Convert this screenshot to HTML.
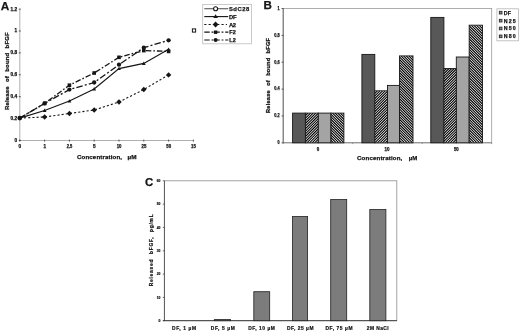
<!DOCTYPE html>
<html><head><meta charset="utf-8"><title>Figure</title>
<style>
html,body{margin:0;padding:0;background:#fff;}
body{width:520px;height:334px;overflow:hidden;font-family:"Liberation Sans",sans-serif;}
svg{display:block;}
text{font-family:"Liberation Sans",sans-serif;font-weight:bold;fill:#141414;stroke:#141414;stroke-width:0.25px;}
text.c{stroke-width:0.2px;}
</style></head><body>
<svg width="520" height="334" viewBox="0 0 520 334">
<defs>
<filter id="bl2" x="-2%" y="-2%" width="104%" height="104%"><feGaussianBlur stdDeviation="0.3"/></filter>
<filter id="bl" x="-2%" y="-2%" width="104%" height="104%"><feGaussianBlur stdDeviation="0.4"/></filter>
</defs>
<rect width="520" height="334" fill="#fff"/>
<g filter="url(#bl)">

<g id="A">
<text x="0.7" y="10.2" font-size="11.8">A</text>
<path d="M19.8 9V140.5H193.6" fill="none" stroke="#b0b0b0" stroke-width="1"/>
<path d="M18.8 140.5H20.8" stroke="#333" stroke-width="0.8"/>
<text x="14.50" y="141.90" font-size="4.7" textLength="2.60" lengthAdjust="spacingAndGlyphs" >0</text>
<path d="M18.8 118.6H20.8" stroke="#333" stroke-width="0.8"/>
<text x="10.50" y="120.00" font-size="4.7" textLength="6.60" lengthAdjust="spacingAndGlyphs" >0.2</text>
<path d="M18.8 96.7H20.8" stroke="#333" stroke-width="0.8"/>
<text x="10.50" y="98.10" font-size="4.7" textLength="6.60" lengthAdjust="spacingAndGlyphs" >0.4</text>
<path d="M18.8 74.8H20.8" stroke="#333" stroke-width="0.8"/>
<text x="10.50" y="76.20" font-size="4.7" textLength="6.60" lengthAdjust="spacingAndGlyphs" >0.6</text>
<path d="M18.8 52.9H20.8" stroke="#333" stroke-width="0.8"/>
<text x="10.50" y="54.30" font-size="4.7" textLength="6.60" lengthAdjust="spacingAndGlyphs" >0.8</text>
<path d="M18.8 31.0H20.8" stroke="#333" stroke-width="0.8"/>
<text x="14.50" y="32.40" font-size="4.7" textLength="2.60" lengthAdjust="spacingAndGlyphs" >1</text>
<path d="M18.8 9.1H20.8" stroke="#333" stroke-width="0.8"/>
<text x="10.50" y="10.50" font-size="4.7" textLength="6.60" lengthAdjust="spacingAndGlyphs" >1.2</text>
<path d="M19.8 139.6V141.6" stroke="#333" stroke-width="0.8"/>
<text x="18.60" y="148.20" font-size="4.7" textLength="2.60" lengthAdjust="spacingAndGlyphs" >0</text>
<path d="M44.6 139.6V141.6" stroke="#333" stroke-width="0.8"/>
<text x="43.40" y="148.20" font-size="4.7" textLength="2.60" lengthAdjust="spacingAndGlyphs" >1</text>
<path d="M69.4 139.6V141.6" stroke="#333" stroke-width="0.8"/>
<text x="66.70" y="148.20" font-size="4.7" textLength="5.60" lengthAdjust="spacingAndGlyphs" >2.5</text>
<path d="M94.2 139.6V141.6" stroke="#333" stroke-width="0.8"/>
<text x="93.00" y="148.20" font-size="4.7" textLength="2.60" lengthAdjust="spacingAndGlyphs" >5</text>
<path d="M119.0 139.6V141.6" stroke="#333" stroke-width="0.8"/>
<text x="116.70" y="148.20" font-size="4.7" textLength="4.80" lengthAdjust="spacingAndGlyphs" >10</text>
<path d="M143.8 139.6V141.6" stroke="#333" stroke-width="0.8"/>
<text x="141.50" y="148.20" font-size="4.7" textLength="4.80" lengthAdjust="spacingAndGlyphs" >25</text>
<path d="M168.6 139.6V141.6" stroke="#333" stroke-width="0.8"/>
<text x="166.30" y="148.20" font-size="4.7" textLength="4.80" lengthAdjust="spacingAndGlyphs" >50</text>
<path d="M193.4 139.6V141.6" stroke="#333" stroke-width="0.8"/>
<text x="191.10" y="148.20" font-size="4.7" textLength="4.80" lengthAdjust="spacingAndGlyphs" >15</text>
<text x="77.00" y="158.70" font-size="6.1" textLength="45.00" lengthAdjust="spacing" >Concentration,</text>
<text x="127.50" y="158.70" font-size="6.1" textLength="9.00" lengthAdjust="spacingAndGlyphs" >µM</text>
<text transform="translate(7.3,71.1) rotate(-90)" x="-38.80" y="2.16" font-size="6.0" textLength="77.60" lengthAdjust="spacing" style="word-spacing:2.5px">Release of bound bFGF</text>
<polyline points="19.8,118.1 44.6,117.0 69.4,113.5 94.2,110.0 119.0,102.0 143.8,89.5 168.60000000000002,74.9" fill="none" stroke="#141414" stroke-width="1.1" stroke-dasharray="2.1 2.1"/>
<polyline points="19.8,118.1 44.6,110.5 69.4,101.1 94.2,89.0 119.0,68.6 143.8,63.4 168.60000000000002,49.3" fill="none" stroke="#141414" stroke-width="1.1"/>
<polyline points="19.8,118.1 44.6,103.4 69.4,85.2 94.2,73.0 119.0,57.3 143.8,50.6 168.60000000000002,51.4" fill="none" stroke="#141414" stroke-width="1.3" stroke-dasharray="5.5 2 1.6 2"/>
<polyline points="19.8,118.1 44.6,103.4 69.4,89.6 94.2,82.5 119.0,64.7 143.8,47.7 168.60000000000002,40.3" fill="none" stroke="#141414" stroke-width="1.3" stroke-dasharray="6.5 2.2 2 2.2"/>
<path d="M41.90 117.0L44.60 114.30L47.30 117.0L44.60 119.70Z" fill="#141414"/>
<path d="M66.70 113.5L69.40 110.80L72.10 113.5L69.40 116.20Z" fill="#141414"/>
<path d="M91.50 110.0L94.20 107.30L96.90 110.0L94.20 112.70Z" fill="#141414"/>
<path d="M116.30 102.0L119.00 99.30L121.70 102.0L119.00 104.70Z" fill="#141414"/>
<path d="M141.10 89.5L143.80 86.80L146.50 89.5L143.80 92.20Z" fill="#141414"/>
<path d="M165.90 74.9L168.60 72.20L171.30 74.9L168.60 77.60Z" fill="#141414"/>
<path d="M42.70 112.00L44.60 108.60L46.50 112.00Z" fill="#141414"/>
<path d="M67.50 102.60L69.40 99.20L71.30 102.60Z" fill="#141414"/>
<path d="M92.30 90.50L94.20 87.10L96.10 90.50Z" fill="#141414"/>
<path d="M117.10 70.10L119.00 66.70L120.90 70.10Z" fill="#141414"/>
<path d="M141.90 64.90L143.80 61.50L145.70 64.90Z" fill="#141414"/>
<path d="M166.70 50.80L168.60 47.40L170.50 50.80Z" fill="#141414"/>
<rect x="42.80" y="101.60" width="3.6" height="3.6" fill="#141414"/>
<rect x="67.60" y="83.40" width="3.6" height="3.6" fill="#141414"/>
<rect x="92.40" y="71.20" width="3.6" height="3.6" fill="#141414"/>
<rect x="117.20" y="55.50" width="3.6" height="3.6" fill="#141414"/>
<rect x="142.00" y="48.80" width="3.6" height="3.6" fill="#141414"/>
<rect x="166.80" y="49.60" width="3.6" height="3.6" fill="#141414"/>
<circle cx="44.60" cy="103.4" r="2.15" fill="#141414"/>
<circle cx="69.40" cy="89.6" r="2.15" fill="#141414"/>
<circle cx="94.20" cy="82.5" r="2.15" fill="#141414"/>
<circle cx="119.00" cy="64.7" r="2.15" fill="#141414"/>
<circle cx="143.80" cy="47.7" r="2.15" fill="#141414"/>
<circle cx="168.60" cy="40.3" r="2.15" fill="#141414"/>
<circle cx="19.80" cy="118.1" r="2.4" fill="#141414"/>
<rect x="192.4" y="28.9" width="3.2" height="3.2" fill="#fff" stroke="#141414" stroke-width="1"/>
<rect x="202.7" y="4.5" width="48.8" height="39.3" fill="#fff" stroke="#bdbdbd" stroke-width="0.8"/>
<text x="228.90" y="10.80" font-size="5.8" textLength="20.40" lengthAdjust="spacing" >SdC28</text>
<text x="228.90" y="18.70" font-size="5.8" textLength="7.70" lengthAdjust="spacing" >DF</text>
<text x="228.90" y="26.60" font-size="5.8" textLength="7.20" lengthAdjust="spacing" >A2</text>
<text x="229.30" y="34.30" font-size="5.8" textLength="6.40" lengthAdjust="spacingAndGlyphs" >F2</text>
<text x="229.30" y="42.10" font-size="5.8" textLength="6.40" lengthAdjust="spacingAndGlyphs" >L2</text>
<path d="M204.3 8.7H228.2" stroke="#666" stroke-width="1.2"/><circle cx="215.6" cy="8.7" r="2" fill="#fff" stroke="#141414" stroke-width="1.1"/>
<path d="M204.3 16.6H228.2" stroke="#141414" stroke-width="1.1"/><path d="M213.3 18.1L215.6 14.3L217.9 18.1Z" fill="#141414"/>
<path d="M204.3 24.5H227" stroke="#141414" stroke-width="1.1" stroke-dasharray="2.15 2.15"/><path d="M212.7 24.5L215.6 21.6L218.5 24.5L215.6 27.4Z" fill="#141414"/>
<path d="M204.3 32.2H228.4" stroke="#141414" stroke-width="1.2" stroke-dasharray="5.4 1.8 2 1.8 4.5 1.8 1.8 1.8"/><rect x="213.9" y="30.500000000000004" width="3.4" height="3.4" fill="#141414"/>
<path d="M204.3 40.0H228.4" stroke="#141414" stroke-width="1.2" stroke-dasharray="5.4 1.8 2 1.8 4.5 1.8 1.8 1.8"/><circle cx="215.6" cy="40.0" r="2" fill="#141414"/>
</g>
<g id="B">
<text x="263.6" y="9.1" font-size="11.6">B</text>
<rect x="283.2" y="8.5" width="208.5" height="134.3" fill="#fff" stroke="#999" stroke-width="0.8"/>
<path d="M283.2 8.5V142.8" stroke="#666" stroke-width="0.9"/>
<path d="M282.7 142.8H491.7" stroke="#8a8a8a" stroke-width="1.1"/>
<path d="M281.6 142.8H283.4" stroke="#333" stroke-width="0.8"/>
<text x="277.60" y="144.20" font-size="4.5" textLength="2.10" lengthAdjust="spacingAndGlyphs" >0</text>
<path d="M281.6 115.9H283.4" stroke="#333" stroke-width="0.8"/>
<text x="274.30" y="117.34" font-size="4.5" textLength="5.40" lengthAdjust="spacingAndGlyphs" >0.2</text>
<path d="M281.6 89.1H283.4" stroke="#333" stroke-width="0.8"/>
<text x="274.30" y="90.48" font-size="4.5" textLength="5.40" lengthAdjust="spacingAndGlyphs" >0.4</text>
<path d="M281.6 62.2H283.4" stroke="#333" stroke-width="0.8"/>
<text x="274.30" y="63.62" font-size="4.5" textLength="5.40" lengthAdjust="spacingAndGlyphs" >0.6</text>
<path d="M281.6 35.4H283.4" stroke="#333" stroke-width="0.8"/>
<text x="274.30" y="36.76" font-size="4.5" textLength="5.40" lengthAdjust="spacingAndGlyphs" >0.8</text>
<path d="M281.6 8.5H283.4" stroke="#333" stroke-width="0.8"/>
<text x="277.60" y="9.90" font-size="4.5" textLength="2.10" lengthAdjust="spacingAndGlyphs" >1</text>
<path d="M283.2 142.8V144.10000000000002" stroke="#777" stroke-width="0.7"/>
<path d="M352.7 142.8V144.10000000000002" stroke="#777" stroke-width="0.7"/>
<path d="M422.2 142.8V144.10000000000002" stroke="#777" stroke-width="0.7"/>
<path d="M491.7 142.8V144.10000000000002" stroke="#777" stroke-width="0.7"/>
<rect x="292.60" y="113.10" width="12.80" height="29.70" fill="#585858" stroke="#161616" stroke-width="0.9"/>
<rect x="318.20" y="113.10" width="12.80" height="29.70" fill="#a4a4a4" stroke="#161616" stroke-width="0.9"/>
<rect x="361.90" y="54.40" width="12.90" height="88.40" fill="#585858" stroke="#161616" stroke-width="0.9"/>
<rect x="387.50" y="85.40" width="12.00" height="57.40" fill="#a4a4a4" stroke="#161616" stroke-width="0.9"/>
<rect x="430.80" y="17.40" width="13.10" height="125.40" fill="#585858" stroke="#161616" stroke-width="0.9"/>
<rect x="456.30" y="57.00" width="12.90" height="85.80" fill="#a4a4a4" stroke="#161616" stroke-width="0.9"/>
<text x="316.65" y="150.60" font-size="4.6" textLength="2.50" lengthAdjust="spacingAndGlyphs" >0</text>
<text x="384.50" y="150.60" font-size="4.6" textLength="5.00" lengthAdjust="spacingAndGlyphs" >10</text>
<text x="453.90" y="150.60" font-size="4.6" textLength="4.80" lengthAdjust="spacingAndGlyphs" >50</text>
<text x="357.00" y="160.40" font-size="6.1" textLength="45.30" lengthAdjust="spacing" >Concentration,</text>
<text x="408.70" y="160.40" font-size="6.1" textLength="8.50" lengthAdjust="spacingAndGlyphs" >µM</text>
<text transform="translate(267.6,75.5) rotate(-90)" x="-37.40" y="2.02" font-size="5.6" textLength="74.80" lengthAdjust="spacing" style="word-spacing:2.5px">Release of bound bFGF</text>
<rect x="496.9" y="8.8" width="21.5" height="32" fill="#fff" stroke="#b5b5b5" stroke-width="0.8"/>
<rect x="499.3" y="11.299999999999999" width="2.7" height="2.7" fill="#8a8a8a" stroke="#222" stroke-width="0.8"/>
<text x="503.80" y="14.60" font-size="5.3" textLength="7.20" lengthAdjust="spacing" >DF</text>
<rect x="499.3" y="19.3" width="2.7" height="2.7" fill="#8a8a8a" stroke="#222" stroke-width="0.8"/>
<text x="503.80" y="22.60" font-size="5.3" textLength="12.00" lengthAdjust="spacing" >N25</text>
<rect x="499.3" y="27.1" width="2.7" height="2.7" fill="#8a8a8a" stroke="#222" stroke-width="0.8"/>
<text x="503.80" y="30.40" font-size="5.3" textLength="12.00" lengthAdjust="spacing" >N50</text>
<rect x="499.3" y="35.0" width="2.7" height="2.7" fill="#8a8a8a" stroke="#222" stroke-width="0.8"/>
<text x="503.80" y="38.30" font-size="5.3" textLength="12.00" lengthAdjust="spacing" >N80</text>
</g>
<g id="C">
<text x="145.0" y="185.7" font-size="11.4">C</text>
<rect x="164.4" y="180.8" width="232.4" height="139.89999999999998" fill="#fff" stroke="#8c8c8c" stroke-width="0.8"/>
<path d="M164.4 180.8V320.7" stroke="#555" stroke-width="0.9"/>
<path d="M162.9 320.7H396.8" stroke="#333" stroke-width="0.9"/>
<path d="M162.8 320.7H164.4" stroke="#333" stroke-width="0.7"/>
<text x="158.50" y="321.90" font-size="3.6" textLength="1.90" lengthAdjust="spacingAndGlyphs" class="c">0</text>
<path d="M162.8 297.4H164.4" stroke="#333" stroke-width="0.7"/>
<text x="156.70" y="298.58" font-size="3.6" textLength="3.70" lengthAdjust="spacingAndGlyphs" class="c">10</text>
<path d="M162.8 274.1H164.4" stroke="#333" stroke-width="0.7"/>
<text x="156.70" y="275.27" font-size="3.6" textLength="3.70" lengthAdjust="spacingAndGlyphs" class="c">20</text>
<path d="M162.8 250.8H164.4" stroke="#333" stroke-width="0.7"/>
<text x="156.70" y="251.95" font-size="3.6" textLength="3.70" lengthAdjust="spacingAndGlyphs" class="c">30</text>
<path d="M162.8 227.4H164.4" stroke="#333" stroke-width="0.7"/>
<text x="156.70" y="228.63" font-size="3.6" textLength="3.70" lengthAdjust="spacingAndGlyphs" class="c">40</text>
<path d="M162.8 204.1H164.4" stroke="#333" stroke-width="0.7"/>
<text x="156.70" y="205.32" font-size="3.6" textLength="3.70" lengthAdjust="spacingAndGlyphs" class="c">50</text>
<path d="M162.8 180.8H164.4" stroke="#333" stroke-width="0.7"/>
<text x="156.70" y="182.00" font-size="3.6" textLength="3.70" lengthAdjust="spacingAndGlyphs" class="c">60</text>
<text x="172.07" y="329.90" font-size="4.9" textLength="24.00" lengthAdjust="spacing" class="c">DF, 1 µM</text>
<rect x="214.30" y="319.60" width="16.30" height="1.10" fill="#7b7b7b" stroke="#222" stroke-width="0.8"/>
<text x="210.80" y="329.90" font-size="4.9" textLength="24.00" lengthAdjust="spacing" class="c">DF, 5 µM</text>
<rect x="253.80" y="291.70" width="15.90" height="29.00" fill="#7b7b7b" stroke="#222" stroke-width="0.8"/>
<text x="248.13" y="329.90" font-size="4.9" textLength="26.80" lengthAdjust="spacing" class="c">DF, 10 µM</text>
<rect x="292.50" y="216.50" width="15.10" height="104.20" fill="#7b7b7b" stroke="#222" stroke-width="0.8"/>
<text x="287.02" y="329.90" font-size="4.9" textLength="26.50" lengthAdjust="spacing" class="c">DF, 25 µM</text>
<rect x="330.70" y="199.50" width="16.00" height="121.20" fill="#7b7b7b" stroke="#222" stroke-width="0.8"/>
<text x="325.50" y="329.90" font-size="4.9" textLength="27.00" lengthAdjust="spacing" class="c">DF, 75 µM</text>
<rect x="369.80" y="209.50" width="16.10" height="111.20" fill="#7b7b7b" stroke="#222" stroke-width="0.8"/>
<text x="366.83" y="329.90" font-size="4.9" textLength="21.80" lengthAdjust="spacing" class="c">2M NaCl</text>
<text class="c" transform="translate(150.8,250.3) rotate(-90)" x="-36.00" y="1.76" font-size="4.9" textLength="72.00" lengthAdjust="spacing" style="word-spacing:2.5px">Released bFGF, pg/mL</text>
</g>
</g><g filter="url(#bl2)"><clipPath id="c0"><rect x="305.40" y="113.10" width="12.80" height="29.70"/></clipPath><rect x="305.40" y="113.10" width="12.80" height="29.70" fill="#fff"/><path clip-path="url(#c0)" d="M302.80 113.10l-29.70 29.70M305.40 113.10l-29.70 29.70M308.00 113.10l-29.70 29.70M310.60 113.10l-29.70 29.70M313.20 113.10l-29.70 29.70M315.80 113.10l-29.70 29.70M318.40 113.10l-29.70 29.70M321.00 113.10l-29.70 29.70M323.60 113.10l-29.70 29.70M326.20 113.10l-29.70 29.70M328.80 113.10l-29.70 29.70M331.40 113.10l-29.70 29.70M334.00 113.10l-29.70 29.70M336.60 113.10l-29.70 29.70M339.20 113.10l-29.70 29.70M341.80 113.10l-29.70 29.70M344.40 113.10l-29.70 29.70M347.00 113.10l-29.70 29.70M349.60 113.10l-29.70 29.70M352.20 113.10l-29.70 29.70" stroke="#000" stroke-width="1.1" fill="none"/><rect x="305.40" y="113.10" width="12.80" height="29.70" fill="none" stroke="#161616" stroke-width="0.9"/><clipPath id="c4"><rect x="331.00" y="113.10" width="12.90" height="29.70"/></clipPath><rect x="331.00" y="113.10" width="12.90" height="29.70" fill="#fff"/><path clip-path="url(#c4)" d="M298.70 113.10l29.70 29.70M301.30 113.10l29.70 29.70M303.90 113.10l29.70 29.70M306.50 113.10l29.70 29.70M309.10 113.10l29.70 29.70M311.70 113.10l29.70 29.70M314.30 113.10l29.70 29.70M316.90 113.10l29.70 29.70M319.50 113.10l29.70 29.70M322.10 113.10l29.70 29.70M324.70 113.10l29.70 29.70M327.30 113.10l29.70 29.70M329.90 113.10l29.70 29.70M332.50 113.10l29.70 29.70M335.10 113.10l29.70 29.70M337.70 113.10l29.70 29.70M340.30 113.10l29.70 29.70M342.90 113.10l29.70 29.70M345.50 113.10l29.70 29.70M348.10 113.10l29.70 29.70" stroke="#000" stroke-width="1.1" fill="none"/><rect x="331.00" y="113.10" width="12.90" height="29.70" fill="none" stroke="#161616" stroke-width="0.9"/><clipPath id="c8"><rect x="374.80" y="90.80" width="12.70" height="52.00"/></clipPath><rect x="374.80" y="90.80" width="12.70" height="52.00" fill="#fff"/><path clip-path="url(#c8)" d="M372.20 90.80l-52.00 52.00M374.80 90.80l-52.00 52.00M377.40 90.80l-52.00 52.00M380.00 90.80l-52.00 52.00M382.60 90.80l-52.00 52.00M385.20 90.80l-52.00 52.00M387.80 90.80l-52.00 52.00M390.40 90.80l-52.00 52.00M393.00 90.80l-52.00 52.00M395.60 90.80l-52.00 52.00M398.20 90.80l-52.00 52.00M400.80 90.80l-52.00 52.00M403.40 90.80l-52.00 52.00M406.00 90.80l-52.00 52.00M408.60 90.80l-52.00 52.00M411.20 90.80l-52.00 52.00M413.80 90.80l-52.00 52.00M416.40 90.80l-52.00 52.00M419.00 90.80l-52.00 52.00M421.60 90.80l-52.00 52.00M424.20 90.80l-52.00 52.00M426.80 90.80l-52.00 52.00M429.40 90.80l-52.00 52.00M432.00 90.80l-52.00 52.00M434.60 90.80l-52.00 52.00M437.20 90.80l-52.00 52.00M439.80 90.80l-52.00 52.00M442.40 90.80l-52.00 52.00" stroke="#000" stroke-width="1.1" fill="none"/><rect x="374.80" y="90.80" width="12.70" height="52.00" fill="none" stroke="#161616" stroke-width="0.9"/><clipPath id="c12"><rect x="399.50" y="55.90" width="13.50" height="86.90"/></clipPath><rect x="399.50" y="55.90" width="13.50" height="86.90" fill="#fff"/><path clip-path="url(#c12)" d="M310.00 55.90l86.90 86.90M312.60 55.90l86.90 86.90M315.20 55.90l86.90 86.90M317.80 55.90l86.90 86.90M320.40 55.90l86.90 86.90M323.00 55.90l86.90 86.90M325.60 55.90l86.90 86.90M328.20 55.90l86.90 86.90M330.80 55.90l86.90 86.90M333.40 55.90l86.90 86.90M336.00 55.90l86.90 86.90M338.60 55.90l86.90 86.90M341.20 55.90l86.90 86.90M343.80 55.90l86.90 86.90M346.40 55.90l86.90 86.90M349.00 55.90l86.90 86.90M351.60 55.90l86.90 86.90M354.20 55.90l86.90 86.90M356.80 55.90l86.90 86.90M359.40 55.90l86.90 86.90M362.00 55.90l86.90 86.90M364.60 55.90l86.90 86.90M367.20 55.90l86.90 86.90M369.80 55.90l86.90 86.90M372.40 55.90l86.90 86.90M375.00 55.90l86.90 86.90M377.60 55.90l86.90 86.90M380.20 55.90l86.90 86.90M382.80 55.90l86.90 86.90M385.40 55.90l86.90 86.90M388.00 55.90l86.90 86.90M390.60 55.90l86.90 86.90M393.20 55.90l86.90 86.90M395.80 55.90l86.90 86.90M398.40 55.90l86.90 86.90M401.00 55.90l86.90 86.90M403.60 55.90l86.90 86.90M406.20 55.90l86.90 86.90M408.80 55.90l86.90 86.90M411.40 55.90l86.90 86.90M414.00 55.90l86.90 86.90M416.60 55.90l86.90 86.90" stroke="#000" stroke-width="1.1" fill="none"/><rect x="399.50" y="55.90" width="13.50" height="86.90" fill="none" stroke="#161616" stroke-width="0.9"/><clipPath id="c16"><rect x="443.90" y="68.50" width="12.40" height="74.30"/></clipPath><rect x="443.90" y="68.50" width="12.40" height="74.30" fill="#fff"/><path clip-path="url(#c16)" d="M441.30 68.50l-74.30 74.30M443.90 68.50l-74.30 74.30M446.50 68.50l-74.30 74.30M449.10 68.50l-74.30 74.30M451.70 68.50l-74.30 74.30M454.30 68.50l-74.30 74.30M456.90 68.50l-74.30 74.30M459.50 68.50l-74.30 74.30M462.10 68.50l-74.30 74.30M464.70 68.50l-74.30 74.30M467.30 68.50l-74.30 74.30M469.90 68.50l-74.30 74.30M472.50 68.50l-74.30 74.30M475.10 68.50l-74.30 74.30M477.70 68.50l-74.30 74.30M480.30 68.50l-74.30 74.30M482.90 68.50l-74.30 74.30M485.50 68.50l-74.30 74.30M488.10 68.50l-74.30 74.30M490.70 68.50l-74.30 74.30M493.30 68.50l-74.30 74.30M495.90 68.50l-74.30 74.30M498.50 68.50l-74.30 74.30M501.10 68.50l-74.30 74.30M503.70 68.50l-74.30 74.30M506.30 68.50l-74.30 74.30M508.90 68.50l-74.30 74.30M511.50 68.50l-74.30 74.30M514.10 68.50l-74.30 74.30M516.70 68.50l-74.30 74.30M519.30 68.50l-74.30 74.30M521.90 68.50l-74.30 74.30M524.50 68.50l-74.30 74.30M527.10 68.50l-74.30 74.30M529.70 68.50l-74.30 74.30M532.30 68.50l-74.30 74.30M534.90 68.50l-74.30 74.30" stroke="#000" stroke-width="1.1" fill="none"/><rect x="443.90" y="68.50" width="12.40" height="74.30" fill="none" stroke="#161616" stroke-width="0.9"/><clipPath id="c20"><rect x="469.20" y="25.20" width="13.30" height="117.60"/></clipPath><rect x="469.20" y="25.20" width="13.30" height="117.60" fill="#fff"/><path clip-path="url(#c20)" d="M349.00 25.20l117.60 117.60M351.60 25.20l117.60 117.60M354.20 25.20l117.60 117.60M356.80 25.20l117.60 117.60M359.40 25.20l117.60 117.60M362.00 25.20l117.60 117.60M364.60 25.20l117.60 117.60M367.20 25.20l117.60 117.60M369.80 25.20l117.60 117.60M372.40 25.20l117.60 117.60M375.00 25.20l117.60 117.60M377.60 25.20l117.60 117.60M380.20 25.20l117.60 117.60M382.80 25.20l117.60 117.60M385.40 25.20l117.60 117.60M388.00 25.20l117.60 117.60M390.60 25.20l117.60 117.60M393.20 25.20l117.60 117.60M395.80 25.20l117.60 117.60M398.40 25.20l117.60 117.60M401.00 25.20l117.60 117.60M403.60 25.20l117.60 117.60M406.20 25.20l117.60 117.60M408.80 25.20l117.60 117.60M411.40 25.20l117.60 117.60M414.00 25.20l117.60 117.60M416.60 25.20l117.60 117.60M419.20 25.20l117.60 117.60M421.80 25.20l117.60 117.60M424.40 25.20l117.60 117.60M427.00 25.20l117.60 117.60M429.60 25.20l117.60 117.60M432.20 25.20l117.60 117.60M434.80 25.20l117.60 117.60M437.40 25.20l117.60 117.60M440.00 25.20l117.60 117.60M442.60 25.20l117.60 117.60M445.20 25.20l117.60 117.60M447.80 25.20l117.60 117.60M450.40 25.20l117.60 117.60M453.00 25.20l117.60 117.60M455.60 25.20l117.60 117.60M458.20 25.20l117.60 117.60M460.80 25.20l117.60 117.60M463.40 25.20l117.60 117.60M466.00 25.20l117.60 117.60M468.60 25.20l117.60 117.60M471.20 25.20l117.60 117.60M473.80 25.20l117.60 117.60M476.40 25.20l117.60 117.60M479.00 25.20l117.60 117.60M481.60 25.20l117.60 117.60M484.20 25.20l117.60 117.60M486.80 25.20l117.60 117.60" stroke="#000" stroke-width="1.1" fill="none"/><rect x="469.20" y="25.20" width="13.30" height="117.60" fill="none" stroke="#161616" stroke-width="0.9"/></g></svg></body></html>
